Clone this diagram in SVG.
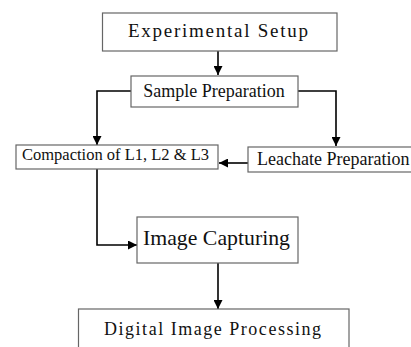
<svg xmlns="http://www.w3.org/2000/svg" width="411" height="347" viewBox="0 0 411 347">
<style>
.box{fill:#fff;stroke:#666;stroke-width:1.2}
.t{font-family:"Liberation Serif","Times New Roman",serif;fill:#111}
.c{fill:none;stroke:#000;stroke-width:1.6}
</style>
<defs>
<marker id="ah" viewBox="0 0 10 10" refX="10" refY="5" markerWidth="11" markerHeight="9" markerUnits="userSpaceOnUse" orient="auto">
<path d="M0,0 L10,5 L0,10 Z" fill="#000"/>
</marker>
</defs>
<rect width="411" height="347" fill="#fff"/>
<g id="connectors">
<line class="c" x1="218" y1="51" x2="218" y2="75" marker-end="url(#ah)"/>
<polyline class="c" points="131,91 97,91 97,145" marker-end="url(#ah)"/>
<polyline class="c" points="298,91 336,91 336,146" marker-end="url(#ah)"/>
<line class="c" x1="248" y1="163" x2="219" y2="163" marker-end="url(#ah)"/>
<polyline class="c" points="97,169 97,245 137,245" marker-end="url(#ah)"/>
<line class="c" x1="218" y1="263" x2="218" y2="309" marker-end="url(#ah)"/>
</g>
<g id="experimental-setup">
<rect class="box" x="102.5" y="13" width="234.5" height="38"/>
<text class="t" x="128" y="37" font-size="19" textLength="180" lengthAdjust="spacing">Experimental Setup</text>
</g>
<g id="sample-preparation">
<rect class="box" x="131" y="76" width="167" height="31"/>
<text class="t" x="214" y="97" font-size="18" text-anchor="middle">Sample Preparation</text>
</g>
<g id="compaction">
<rect class="box" x="16" y="145" width="202" height="24"/>
<text class="t" x="22" y="160" font-size="17.5" textLength="187" lengthAdjust="spacingAndGlyphs">Compaction of L1, L2 &amp; L3</text>
</g>
<g id="leachate-preparation">
<rect class="box" x="248" y="147" width="170" height="25"/>
<text class="t" x="257" y="165" font-size="18">Leachate Preparation</text>
</g>
<g id="image-capturing">
<rect class="box" x="137" y="217" width="161" height="46"/>
<text class="t" x="143" y="245" font-size="22" textLength="147" lengthAdjust="spacingAndGlyphs">Image Capturing</text>
</g>
<g id="digital-image-processing">
<rect class="box" x="78.5" y="309" width="270.5" height="50"/>
<text class="t" x="104" y="335" font-size="18" textLength="217" lengthAdjust="spacing">Digital Image Processing</text>
</g>
</svg>
